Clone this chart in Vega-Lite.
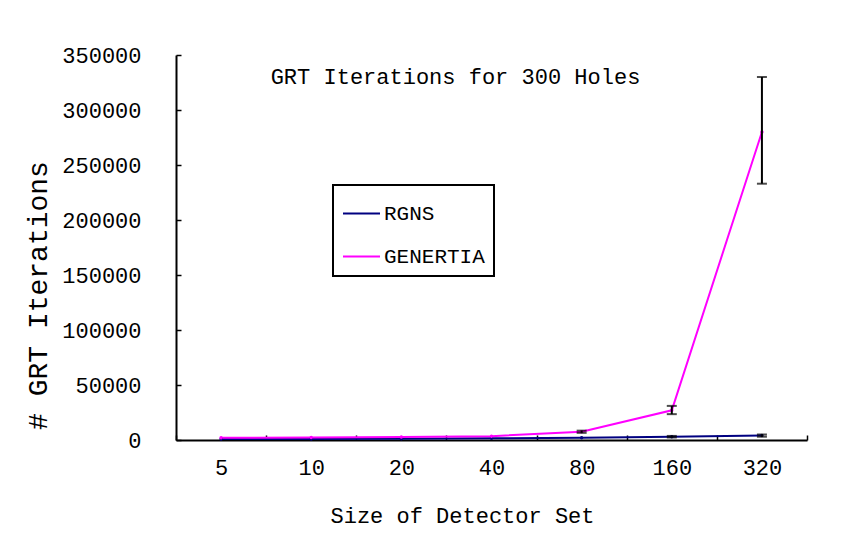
{
  "$schema": "https://vega.github.io/schema/vega-lite/v6.json",
  "width": 631,
  "height": 385,
  "autosize": {"type": "none"},
  "padding": {"left": 176, "top": 55, "right": 44, "bottom": 97},
  "background": "white",
  "title": {
    "text": "GRT Iterations for 300 Holes",
    "offset": -45,
    "dx": -36,
    "font": "Liberation Mono",
    "fontSize": 22,
    "fontWeight": "normal",
    "color": "black"
  },
  "data": {
    "values": [
      {"size": "5", "series": "RGNS", "value": 900},
      {"size": "10", "series": "RGNS", "value": 1000},
      {"size": "20", "series": "RGNS", "value": 1200},
      {"size": "40", "series": "RGNS", "value": 1500},
      {"size": "80", "series": "RGNS", "value": 2000},
      {"size": "160", "series": "RGNS", "value": 3000, "lo": 2300, "hi": 3700},
      {"size": "320", "series": "RGNS", "value": 4000, "lo": 3000, "hi": 5000},
      {"size": "5", "series": "GENERTIA", "value": 2000},
      {"size": "10", "series": "GENERTIA", "value": 2200},
      {"size": "20", "series": "GENERTIA", "value": 2800},
      {"size": "40", "series": "GENERTIA", "value": 3500},
      {"size": "80", "series": "GENERTIA", "value": 7500, "lo": 6500, "hi": 8500},
      {"size": "160", "series": "GENERTIA", "value": 27000, "lo": 23500, "hi": 31000},
      {"size": "320", "series": "GENERTIA", "value": 280000, "lo": 233000, "hi": 330000}
    ]
  },
  "encoding": {
    "x": {
      "field": "size",
      "type": "ordinal",
      "sort": ["5", "10", "20", "40", "80", "160", "320"],
      "bandPosition": 0.5,
      "scale": {"type": "band", "paddingInner": 0, "paddingOuter": 0},
      "axis": {
        "title": "Size of Detector Set",
        "tickBand": "extent",
        "labelAngle": 0,
        "tickSize": -5,
        "labelPadding": 22,
        "titleX": 286,
        "titleY": 75,
        "titleBaseline": "middle",
        "titleAlign": "center"
      }
    }
  },
  "layer": [
    {
      "mark": {"type": "line", "strokeWidth": 2, "point": {"filled": true, "size": 12}},
      "encoding": {
        "y": {
          "field": "value",
          "type": "quantitative",
          "scale": {"domain": [0, 350000], "nice": false},
          "axis": {
            "title": "# GRT Iterations",
            "values": [0, 50000, 100000, 150000, 200000, 250000, 300000, 350000],
            "format": "d",
            "tickSize": -5,
            "labelPadding": 40,
            "titleX": -138,
            "titleY": 240,
            "titleBaseline": "middle",
            "titleAlign": "center",
            "titleAngle": -90,
            "titleFontSize": 28
          }
        },
        "color": {
          "field": "series",
          "type": "nominal",
          "sort": ["RGNS", "GENERTIA"],
          "scale": {"domain": ["RGNS", "GENERTIA"], "range": ["#000080", "#FF00FF"]},
          "legend": {
            "orient": "none",
            "legendX": 157,
            "legendY": 130,
            "title": null
          }
        },
        "order": {"field": "series", "sort": "descending"}
      }
    },
    {
      "transform": [{"filter": "isValid(datum.lo)"}],
      "mark": {"type": "rule", "color": "black", "strokeWidth": 2},
      "encoding": {
        "y": {"field": "lo", "type": "quantitative"},
        "y2": {"field": "hi"}
      }
    },
    {
      "transform": [{"filter": "isValid(datum.lo)"}],
      "mark": {"type": "tick", "color": "black", "size": 10, "thickness": 2},
      "encoding": {"y": {"field": "lo", "type": "quantitative"}}
    },
    {
      "transform": [{"filter": "isValid(datum.hi)"}],
      "mark": {"type": "tick", "color": "black", "size": 10, "thickness": 2},
      "encoding": {"y": {"field": "hi", "type": "quantitative"}}
    }
  ],
  "config": {
    "view": {"stroke": null},
    "font": "Liberation Mono",
    "axis": {
      "grid": false,
      "domainColor": "black",
      "domainWidth": 2,
      "tickColor": "black",
      "tickWidth": 1.5,
      "labelFont": "Liberation Mono",
      "labelFontSize": 22,
      "labelColor": "black",
      "titleFont": "Liberation Mono",
      "titleFontSize": 22,
      "titleFontWeight": "normal",
      "titleColor": "black"
    },
    "legend": {
      "strokeColor": "black",
      "strokeWidth": 2,
      "fillColor": "white",
      "padding": 9,
      "symbolType": "stroke",
      "symbolSize": 1369,
      "symbolStrokeWidth": 2,
      "labelFont": "Liberation Mono",
      "labelFontSize": 21,
      "labelColor": "black",
      "labelOffset": 3,
      "rowPadding": 13
    }
  }
}
